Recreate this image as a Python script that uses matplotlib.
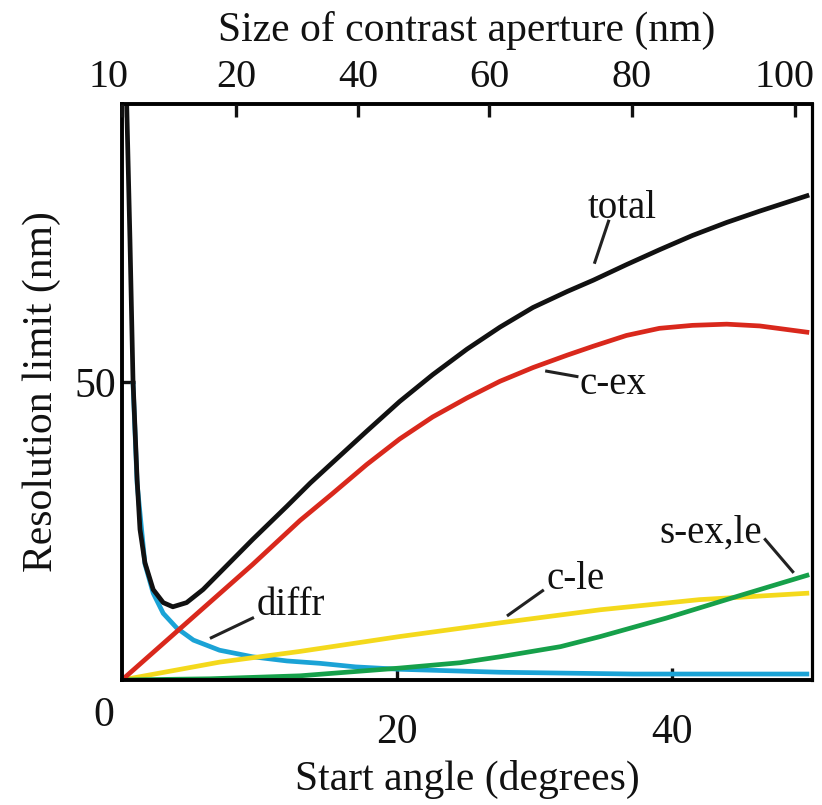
import matplotlib
matplotlib.use('Agg')
import matplotlib.pyplot as plt
from matplotlib.transforms import ScaledTranslation

plt.rcParams['font.family'] = ['Liberation Serif', 'DejaVu Serif']

# start angle (degrees) vs resolution limit (nm)
angle_total = [0.33, 0.58, 0.8, 0.95, 1.1, 1.31, 1.67, 2.27, 3.0, 3.7, 4.7, 5.9, 7.1,
               9.5, 12.0, 13.7, 15.3, 17.8, 20.2, 22.6, 25.1, 27.5, 29.9, 32.4, 34.3,
               36.7, 39.1, 41.5, 44.0, 46.4, 50.0]
total = [98, 74, 50.5, 42.1, 33.7, 25.3, 19.7, 15.2, 13.0, 12.3, 13.0, 15.2, 18.0,
         23.6, 29.2, 33.1, 36.5, 41.8, 46.8, 51.3, 55.6, 59.3, 62.6, 65.3, 67.2,
         69.8, 72.3, 74.7, 76.9, 78.8, 81.5]

angle_cex = [0, 4.7, 9.5, 12.95, 15.3, 17.8, 20.2, 22.6, 25.1, 27.5, 29.9, 32.4, 34.3,
             36.7, 39.1, 41.5, 44.0, 46.4, 50.0]
c_ex = [0, 9.6, 19.4, 26.8, 31.3, 36.2, 40.5, 44.2, 47.4, 50.2, 52.5, 54.6, 56.1,
        57.9, 59.1, 59.6, 59.8, 59.5, 58.4]

angle_cle = [0, 7.1, 12.95, 20.2, 27.5, 34.8, 42.0, 50.0]
c_le = [0, 3.0, 4.8, 7.3, 9.6, 11.8, 13.5, 14.6]

angle_sex = [0, 6.4, 12.95, 20.2, 24.6, 27.5, 31.9, 34.8, 39.6, 44.4, 50.0]
s_ex_le = [0, 0.2, 0.7, 2.0, 2.9, 3.9, 5.6, 7.3, 10.4, 13.8, 17.7]

angle_diffr = [0.8, 1.1, 1.67, 2.27, 3.0, 4.0, 5.2, 7.1, 9.5, 12.0, 14.4, 17.0, 20.2,
               27.5, 37.2, 50.0]
diffr = [50, 33, 19.5, 14.6, 11.2, 8.7, 6.7, 5.0, 3.9, 3.2, 2.8, 2.2, 1.8,
         1.3, 1.0, 1.0]

# top axis: contrast aperture size (nm) at the matching start angle
aperture_nm = ['10', '20', '40', '60', '80', '100']
aperture_at_angle = [0, 8.3, 17.2, 26.7, 37.1, 49.0]

fig = plt.figure(figsize=(8.22, 8.05), dpi=100)
ax = fig.add_axes([0.1484, 0.1553, 0.8394, 0.7155])

lw = 3.4
style = dict(lw=lw, solid_joinstyle='round', solid_capstyle='butt')
ax.plot(angle_diffr, diffr, color='#1ba3d6', **style)
ax.plot(angle_cle, c_le, color='#f4d91c', **style)
ax.plot(angle_sex, s_ex_le, color='#16a04a', **style)
ax.plot(angle_cex, c_ex, color='#d9281c', **style)
ax.plot(angle_total, total, color='#111111', **style)

ax.set_xlim(0, 50.2)
ax.set_ylim(0, 96.8)

for s in ax.spines.values():
    s.set_linewidth(2.8)
ax.spines['right'].set_linewidth(2.3)

ax.set_xticks([20, 40])
ax.set_yticks([50])
ax.tick_params(direction='in', length=9, width=2.4, labelsize=30, colors='#111111')
ax.tick_params(axis='x', pad=24)
ax.tick_params(axis='y', pad=4)
ax.text(-0.027, -0.062, '0', transform=ax.transAxes, fontsize=30,
        ha='center', va='center', color='#111111')

ax.set_xlabel('Start angle (degrees)', fontsize=30, labelpad=6, color='#111111')
ax.set_ylabel('Resolution limit (nm)', fontsize=30, labelpad=10, color='#111111')

top = ax.twiny()
top.set_xlim(ax.get_xlim())
top.set_xticks(aperture_at_angle, aperture_nm)
top.tick_params(direction='in', length=9, width=2.4, labelsize=29, pad=6, colors='#111111')
top.set_xlabel('Size of contrast aperture (nm)', fontsize=30, labelpad=13, color='#111111')
for s in top.spines.values():
    s.set_visible(False)
# the end labels sit a little inward of their ticks
tl = top.get_xticklabels()
tl[0].set_transform(tl[0].get_transform() + ScaledTranslation(-10 / 72, 0, fig.dpi_scale_trans))
tl[-1].set_transform(tl[-1].get_transform() + ScaledTranslation(-8 / 72, 0, fig.dpi_scale_trans))

# curve labels with short leader lines
labels = [
    ('total', (36.4, 79.3), (34.4, 70.2), (35.4, 77.1)),
    ('c-ex', (35.7, 49.6), (30.9, 51.9), (33.1, 51.0)),
    ('diffr', (12.3, 12.5), (6.5, 7.1), (9.5, 10.4)),
    ('c-le', (33.0, 16.9), (28.1, 10.9), (30.6, 15.0)),
    ('s-ex,le', (42.8, 24.6), (46.8, 23.6), (48.8, 18.2)),
]
for name, txt_xy, p0, p1 in labels:
    ax.text(txt_xy[0], txt_xy[1], name, fontsize=28, ha='center', va='center',
            color='#111111')
    ax.plot([p0[0], p1[0]], [p0[1], p1[1]], color='#222222', lw=2.2)

fig.savefig('out.png', dpi=100)
